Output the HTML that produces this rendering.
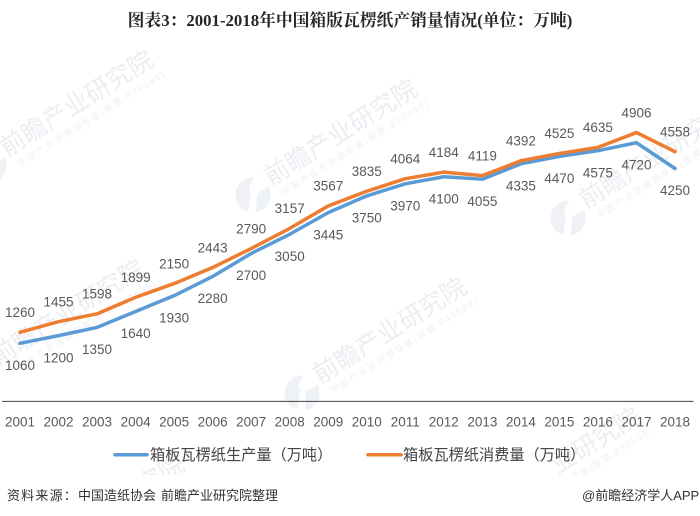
<!DOCTYPE html>
<html>
<head>
<meta charset="utf-8">
<style>
html,body{margin:0;padding:0;background:#fff;width:700px;height:516px;overflow:hidden;}
svg{display:block;}
text{font-family:"Liberation Sans","Noto Sans CJK SC",sans-serif;}
</style>
</head>
<body>
<svg id="chart" xmlns="http://www.w3.org/2000/svg" width="700" height="516" viewBox="0 0 700 516">
  <defs><clipPath id="wm-clip"><rect x="0" y="0" width="700" height="475"/></clipPath></defs>
  <g id="watermarks" clip-path="url(#wm-clip)"></g>
  <text x="350" y="26" text-anchor="middle" font-size="16.8" font-weight="700" fill="#262626" style="font-family:'Liberation Serif','Noto Serif CJK SC',serif">图表3：2001-2018年中国箱版瓦楞纸产销量情况(单位：万吨)</text>
  <line x1="2" y1="401.4" x2="693.5" y2="401.4" stroke="#404040" stroke-width="1"/>
  <g id="x-ticks"></g>
  <g id="series"></g>
  <g id="labels"></g>
  <g>
    <g>
      <line x1="115" y1="454.7" x2="147" y2="454.7" stroke="#5b9bd5" stroke-width="3.5" stroke-linecap="round"/>
      <text x="150" y="460" font-size="15.2" fill="#444">箱板瓦楞纸生产量（万吨）</text>
    </g>
    <g>
      <line x1="368" y1="454.7" x2="401" y2="454.7" stroke="#ed7d31" stroke-width="3.5" stroke-linecap="round"/>
      <text x="403" y="460" font-size="15.2" fill="#444">箱板瓦楞纸消费量（万吨）</text>
    </g>
  </g>
  <text y="500" font-size="13" fill="#333"><tspan x="7" letter-spacing="1.2">资料来源：</tspan><tspan x="78">中国造纸协会</tspan><tspan x="161">前瞻产业研究院整理</tspan></text>
  <text x="582" y="500" font-size="13" fill="#333">@前瞻经济学人APP</text>
</svg>
<script>
const categories = ["2001","2002","2003","2004","2005","2006","2007","2008","2009","2010","2011","2012","2013","2014","2015","2016","2017","2018"];
const productionValues = [1060,1200,1350,1640,1930,2280,2700,3050,3445,3750,3970,4100,4055,4335,4470,4575,4720,4250];
const consumptionValues = [1260,1455,1598,1899,2150,2443,2790,3157,3567,3835,4064,4184,4119,4392,4525,4635,4906,4558];

const NS = 'http://www.w3.org/2000/svg';
function xScale(i){ return 20 + i * (655 / (categories.length - 1)); }
function yScale(v){ return 401.4 - v * 0.0548; }

function drawSeries(values, color, name){
  const p = document.createElementNS(NS, 'polyline');
  p.setAttribute('points', values.map(function(v, i){ return xScale(i).toFixed(2) + ',' + yScale(v).toFixed(2); }).join(' '));
  p.setAttribute('fill', 'none');
  p.setAttribute('stroke', color);
  p.setAttribute('stroke-width', '3.5');
  p.setAttribute('stroke-linecap', 'round');
  p.setAttribute('stroke-linejoin', 'round');
  
  
  document.getElementById('series').appendChild(p);
}
function drawLabels(values, offset, name){
  values.forEach(function(v, i){
    const t = document.createElementNS(NS, 'text');
    t.setAttribute('x', xScale(i).toFixed(2));
    t.setAttribute('y', (yScale(v) + offset).toFixed(2));
    t.setAttribute('text-anchor', 'middle');
    t.setAttribute('font-size', '13.5');
    t.setAttribute('fill', '#595959');
    
    
    t.textContent = v;
    document.getElementById('labels').appendChild(t);
  });
}
categories.forEach(function(c, i){
  const t = document.createElementNS(NS, 'text');
  t.setAttribute('x', xScale(i).toFixed(2));
  t.setAttribute('y', '426.5');
  t.setAttribute('text-anchor', 'middle');
  t.setAttribute('font-size', '13.5');
  t.setAttribute('fill', '#595959');
  
  
  t.textContent = c;
  document.getElementById('x-ticks').appendChild(t);
});
drawSeries(productionValues, '#5b9bd5', 'line-production');
drawSeries(consumptionValues, '#ed7d31', 'line-consumption');
drawLabels(productionValues, 26.7, 'data-label-production');
drawLabels(consumptionValues, -15.2, 'data-label-consumption');

function addWatermarkText(parent, x, y, size, fill, str, name, len){
  const t = document.createElementNS(NS, 'text');
  t.setAttribute('x', x);
  t.setAttribute('y', y);
  t.setAttribute('font-size', size);
  t.setAttribute('fill', fill);
  if (len) { t.setAttribute('textLength', len); }
  
  
  t.textContent = str;
  parent.appendChild(t);
}
function addLogo(parent){
  const c = document.createElementNS(NS, 'circle');
  c.setAttribute('r', '17.5');
  c.setAttribute('fill', '#eef1f5');
  
  
  parent.appendChild(c);
  const n = document.createElementNS(NS, 'path');
  n.setAttribute('d', 'M2 -19 L-4 -8 L-2 -2 L-5 18 L3 18 L4 -1 L18 -10 L14 -19 Z');
  n.setAttribute('fill', '#fff');
  
  
  parent.appendChild(n);
}
const fullWatermarks = [[-11,166],[253,195],[568,218],[-20,375],[302,393]];
const watermarksGroup = document.getElementById('watermarks');
fullWatermarks.forEach(function(a){
  const g = document.createElementNS(NS, 'g');
  
  
  g.setAttribute('transform', 'translate(' + a[0] + ',' + a[1] + ')');
  addLogo(g);
  const r = document.createElementNS(NS, 'g');
  r.setAttribute('transform', 'rotate(-32)');
  addWatermarkText(r, 20, 2, 25, '#eaedf2', '前瞻产业研究院', 'watermark-title');
  addWatermarkText(r, 26, 17, 9, '#eef0f4', '中国产业咨询领导者(股票:839599)', 'watermark-subtitle', 171);
  g.appendChild(r);
  watermarksGroup.appendChild(g);
});
/* Partial watermarks cut off by the white footer band */
const lowerRight = document.createElementNS(NS, 'g');


lowerRight.setAttribute('transform', 'translate(476,523) rotate(-32)');
addWatermarkText(lowerRight, 95, 2, 25, '#eaedf2', '业研究院', 'watermark-title');
addWatermarkText(lowerRight, 83, 17, 9, '#eef0f4', '询领导者(股票:839599)', 'watermark-subtitle', 114);
watermarksGroup.appendChild(lowerRight);
const lowerLeft = document.createElementNS(NS, 'g');


lowerLeft.setAttribute('transform', 'translate(20,570) rotate(-32)');
addWatermarkText(lowerLeft, 145, 2, 25, '#eaedf2', '究院', 'watermark-title');
watermarksGroup.appendChild(lowerLeft);
</script>
</body>
</html>
